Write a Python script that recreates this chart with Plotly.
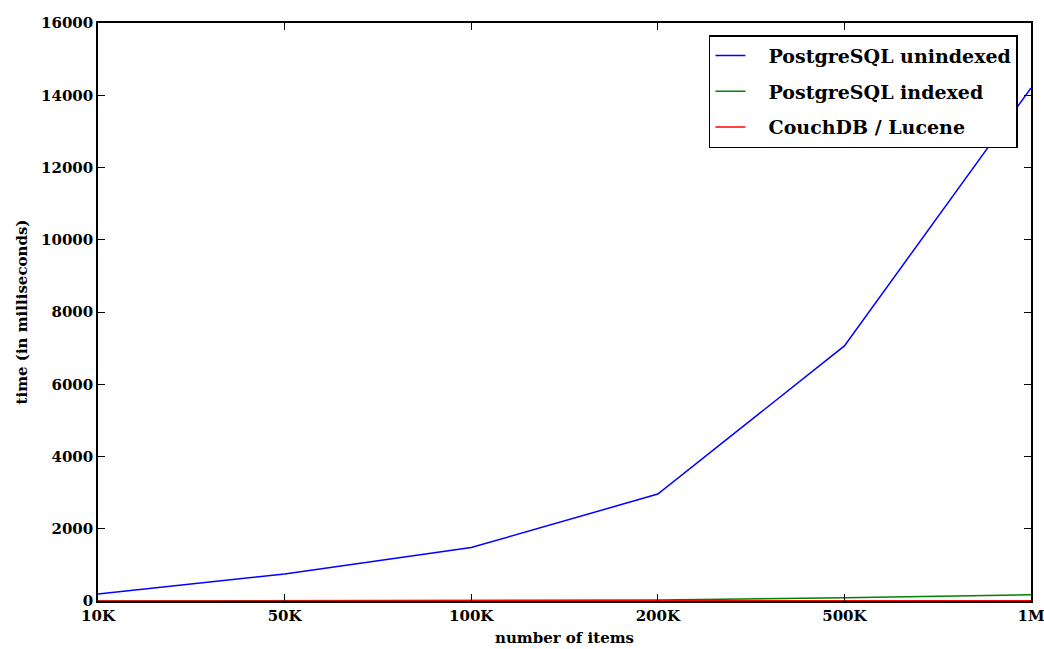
import plotly.graph_objects as go

categories = ["10K", "50K", "100K", "200K", "500K", "1M"]
pg_unindexed = [195, 750, 1480, 2960, 7060, 14200]
pg_indexed = [3, 6, 10, 25, 90, 170]
couchdb_lucene = [2, 3, 4, 5, 7, 10]
y_ticks = [0, 2000, 4000, 6000, 8000, 10000, 12000, 14000, 16000]

FONT = "DejaVu Serif"
PAD = "\u00a0" * 3

fig = go.Figure()
fig.add_trace(go.Scatter(x=categories, y=pg_unindexed, mode="lines",
                         name=f"{PAD}<b>PostgreSQL unindexed</b>", legendgroup="a",
                         line=dict(color="#0000ff", width=1.5)))
fig.add_trace(go.Scatter(x=categories, y=pg_indexed, mode="lines",
                         name=f"{PAD}<b>PostgreSQL indexed</b>", legendgroup="b",
                         line=dict(color="#008000", width=1.5)))
fig.add_trace(go.Scatter(x=categories, y=couchdb_lucene, mode="lines",
                         name=f"{PAD}<b>CouchDB / Lucene</b>", legendgroup="c",
                         line=dict(color="#ff0000", width=1.5)))

axis_common = dict(
    showline=True, linecolor="black", linewidth=1.5, mirror="ticks",
    ticks="inside", ticklen=7, tickwidth=1, tickcolor="black",
    showgrid=False, zeroline=False, automargin=False,
    tickfont=dict(family=FONT, size=15, color="black"),
)

fig.update_xaxes(type="category", range=[0, 5],
                 tickvals=categories, ticktext=[f"<b>{c}</b>" for c in categories],
                 title=dict(text="<b>number of items</b>", standoff=9,
                            font=dict(family=FONT, size=15, color="black")),
                 **axis_common)
fig.update_yaxes(range=[0, 16000], tickvals=y_ticks,
                 ticktext=[f"<b>{v}</b>" for v in y_ticks],
                 title=dict(text="<b>time (in milliseconds)</b>", standoff=10,
                            font=dict(family=FONT, size=15, color="black")),
                 **axis_common)

fig.update_layout(
    width=1044, height=649,
    margin=dict(l=98, r=13, t=23, b=48),
    paper_bgcolor="white", plot_bgcolor="white",
    font=dict(family=FONT, size=15, color="black"),
    showlegend=True,
    legend=dict(x=0.986, y=0.979, xanchor="right", yanchor="top",
                bordercolor="black", borderwidth=1.5, bgcolor="white",
                font=dict(family=FONT, size=19, color="black"),
                itemwidth=30, tracegroupgap=8),
)

fig.write_html("out.html")
